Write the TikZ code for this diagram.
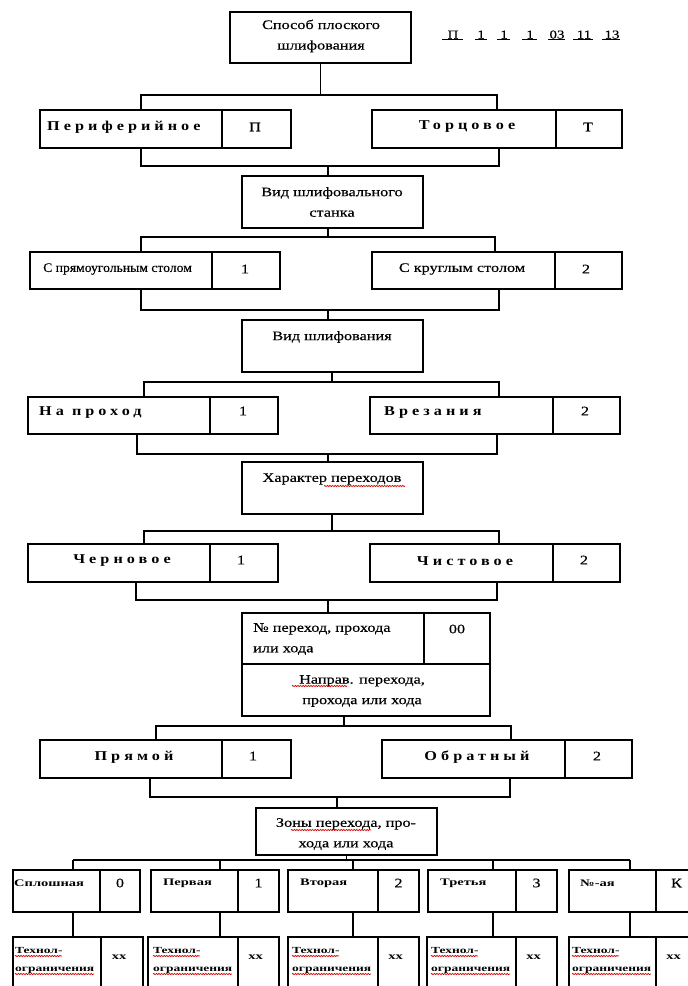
\documentclass[tikz,border=0pt]{standalone}
\usepackage{fontspec}
\usepackage{graphicx}
\setmainfont[FakeStretch=1.25,FakeBold=0.35]{Liberation Serif}
\newfontfamily\spacedfont[FakeStretch=1.2,LetterSpace=30]{Liberation Serif}
\newfontfamily\narrowfont[FakeStretch=1.45]{Liberation Serif}
\usetikzlibrary{decorations.pathmorphing}

% two-cell box: name cell + code cell
% #1 prefix, #2 left, #3 split, #4 right, #5 top, #6 bottom, #7 divider style
\newcommand{\pairbox}[7]{%
  \node[box, minimum width={(#3-#2)*1pt}, minimum height={(#6-#5)*1pt}] (#1n) at (#2,#5) {};
  \node[box, minimum width={(#4-#3)*1pt}, minimum height={(#6-#5)*1pt}] (#1c) at (#3,#5) {};
  \draw[#7] (#1n.north east) -- (#1n.south east);
}
\newcommand{\singlebox}[5]{%
  \node[box, minimum width={(#4-#2)*1pt}, minimum height={(#5-#3)*1pt}] (#1) at (#2,#3) {};
}

\begin{document}
\begin{tikzpicture}[x=1pt,y=-1pt,
  box/.style={draw, line width=1.1pt, inner sep=0pt, outer sep=0pt, anchor=north west},
  conn/.style={line width=1.1pt},
  thickdiv/.style={line width=2.4pt},
  thindiv/.style={line width=1.1pt},
  lbl/.style={inner sep=0pt, font=\fontsize{13}{20.5}\selectfont, align=center},
  lbll/.style={lbl, align=left, anchor=west},
  spaced/.style={inner sep=0pt, font=\spacedfont\bfseries\fontsize{13.5}{15}\selectfont},
  small/.style={inner sep=0pt, anchor=west, align=left, font=\narrowfont\bfseries\fontsize{10}{18}\selectfont},
  tech/.style={small, font=\narrowfont\bfseries\fontsize{9.3}{18}\selectfont},
  ul/.style={line width=0.9pt},
  wave/.style={red!85!black, line width=0.7pt, decorate,
    decoration={snake, amplitude=0.6pt, segment length=2.6pt}}]

\clip (0,0) rectangle (688,986);
\fill[white] (0,0) rectangle (688,986);

% ---------- method of grinding ----------
\singlebox{s1}{230}{12}{411}{63}
\node[lbl] (s1t) at (321,36) {Способ плоского\\шлифования};

% code string
\foreach \t/\cx/\ua/\ub [count=\i] in {П/453/442/463, 1/481/475/487, 1/504/497/510, 1/530/522/537,
    03/557/548/565, 11/584/573/593, 13/612/602/620}{
  \node[inner sep=0pt, anchor=base, font=\fontsize{12}{14}\selectfont] (code\i) at (\cx,38.5) {\t};
  \draw[ul] (\ua,39.5) -- (\ub,39.5);
}

\coordinate (j1) at (141,95); \coordinate (k1) at (497,95);
\pairbox{a1}{40}{222}{291}{110}{148}{thickdiv}
\pairbox{b1}{372}{556}{622}{110}{148}{thickdiv}
\draw[conn] (s1.south) -- (s1.south |- j1);
\draw[conn] (a1n.north -| j1) -- (j1) -- (k1) -- (b1n.north -| k1);
\node[spaced, anchor=west] (a1t) at (47,127) {Периферийное};
\node[lbl] (a1ct) at (255,127) {П};
\node[spaced] (b1t) at (467,127) {Торцовое};
\node[lbl] (b1ct) at (588,127) {Т};

% ---------- machine type ----------
\singlebox{s2}{242}{176}{423}{228}
\node[lbl] (s2t) at (332,202) {Вид шлифовального\\станка};
\coordinate (j2) at (141,166); \coordinate (k2) at (499,166); \coordinate (m2) at (328,166);
\draw[conn] (a1n.south -| j2) -- (j2) -- (k2) -- (b1n.south -| k2);
\draw[conn] (m2) -- (s2.north -| m2);

\coordinate (j3) at (141,237); \coordinate (k3) at (495,237); \coordinate (m3) at (328,237);
\pairbox{a2}{30}{212}{280}{252}{289}{thickdiv}
\pairbox{b2}{372}{555}{622}{252}{289}{thickdiv}
\draw[conn] (s2.south -| m3) -- (m3);
\draw[conn] (a2n.north -| j3) -- (j3) -- (k3) -- (b2n.north -| k3);
\node[lbl, anchor=west] (a2t) at (43,269) {\scalebox{0.84}[1]{С прямоугольным столом}};
\node[lbl] (a2ct) at (245,269) {1};
\node[lbl] (b2t) at (462,269) {С круглым столом};
\node[lbl] (b2ct) at (586,269) {2};

% ---------- grinding type ----------
\singlebox{s3}{242}{320}{423}{372}
\node[lbl] (s3t) at (332,337) {Вид шлифования};
\coordinate (j4) at (141,310); \coordinate (k4) at (499,310); \coordinate (m4) at (328,310);
\draw[conn] (a2n.south -| j4) -- (j4) -- (k4) -- (b2n.south -| k4);
\draw[conn] (m4) -- (s3.north -| m4);

\coordinate (j5) at (144,382); \coordinate (k5) at (499,382); \coordinate (m5) at (332,382);
\pairbox{a3}{28}{210}{278}{397}{434}{thickdiv}
\pairbox{b3}{370}{553}{620}{397}{434}{thickdiv}
\draw[conn] (s3.south -| m5) -- (m5);
\draw[conn] (a3n.north -| j5) -- (j5) -- (k5) -- (b3n.north -| k5);
\node[spaced, anchor=west] (a3t) at (39,413) {На проход};
\node[lbl] (a3ct) at (243,411) {1};
\node[spaced, anchor=west] (b3t) at (384,413) {Врезания};
\node[lbl] (b3ct) at (585,411) {2};

% ---------- passes ----------
\singlebox{s4}{242}{462}{423}{514}
\node[lbl] (s4t) at (332,479) {Характер переходов};
\draw[wave] (324,486) -- (405,486);
\coordinate (j6) at (137,454); \coordinate (k6) at (497,454); \coordinate (m6) at (328,454);
\draw[conn] (a3n.south -| j6) -- (j6) -- (k6) -- (b3n.south -| k6);
\draw[conn] (m6) -- (s4.north -| m6);

\coordinate (j7) at (144,531); \coordinate (k7) at (499,531); \coordinate (m7) at (332,531);
\pairbox{a4}{28}{210}{278}{544}{582}{thickdiv}
\pairbox{b4}{370}{553}{620}{544}{582}{thickdiv}
\draw[conn] (s4.south -| m7) -- (m7);
\draw[conn] (a4n.north -| j7) -- (j7) -- (k7) -- (b4n.north -| k7);
\node[spaced] (a4t) at (122,561) {Черновое};
\node[lbl] (a4ct) at (241,560) {1};
\node[spaced] (b4t) at (465,561) {Чистовое};
\node[lbl] (b4ct) at (584,560) {2};

% ---------- pass number and direction ----------
\node[box, minimum width=182pt, minimum height=51pt] (s5a) at (242,613) {};
\node[box, minimum width=66pt, minimum height=51pt] (s5b) at (424,613) {};
\node[box, minimum width=248pt, minimum height=52pt] (s5c) at (242,664) {};
\node[lbll] (s5at) at (253,639) {№ переход, прохода\\или хода};
\node[lbl] (s5bt) at (457,629) {00};
\node[lbl] (s5ct) at (362,691) {Направ. перехода,\\прохода или хода};
\draw[wave] (292,686) -- (347,686);
\coordinate (j8) at (136,600); \coordinate (k8) at (497,600); \coordinate (m8) at (328,600);
\draw[conn] (a4n.south -| j8) -- (j8) -- (k8) -- (b4n.south -| k8);
\draw[conn] (m8) -- (s5a.north -| m8);

\coordinate (j9) at (156,726); \coordinate (k9) at (511,726); \coordinate (m9) at (344,726);
\pairbox{a5}{40}{222}{291}{740}{778}{thickdiv}
\pairbox{b5}{382}{565}{632}{740}{778}{thickdiv}
\draw[conn] (s5c.south -| m9) -- (m9);
\draw[conn] (a5n.north -| j9) -- (j9) -- (k9) -- (b5n.north -| k9);
\node[spaced] (a5t) at (134,757) {Прямой};
\node[lbl] (a5ct) at (253,756) {1};
\node[spaced] (b5t) at (477,757) {Обратный};
\node[lbl] (b5ct) at (597,756) {2};

% ---------- zones ----------
\singlebox{s6}{256}{808}{437}{855}
\node[lbl] (s6t) at (346,834) {Зоны перехода, про-\\хода или хода};
\draw[wave] (291,830) -- (371,830);
\coordinate (j10) at (150,797); \coordinate (k10) at (510,797); \coordinate (m10) at (337,797);
\draw[conn] (a5n.south -| j10) -- (j10) -- (k10) -- (b5n.south -| k10);
\draw[conn] (m10) -- (s6.north -| m10);

\coordinate (bus) at (346,860);
\draw[conn] (s6.south) -- (s6.south |- bus);
\draw[conn] (73,860) coordinate (q0) -- (630,860) coordinate (q4);

\foreach \nm/\xa/\xd/\xb/\tx/\lab/\code/\jx/\txb/\xxa/\xxd/\xxb [count=\i from 0] in {
   Сплошная/13/100/140/14/z0/0/73/15/13/101/143,
   Первая/151/238/279/163/z1/1/220/153/148/238/279,
   Вторая/288/378/419/300/z2/2/353/292/288/378/419,
   Третья/428/516/557/440/z3/3/493/431/427/516/557,
   №-ая/569/656/697/580/z4/К/630/572/569/656/697}{
  \pairbox{\lab}{\xa}{\xd}{\xb}{870}{912}{thindiv}
  \coordinate (jz\i) at (\jx,860);
  \draw[conn] (jz\i) -- (\lab n.north -| jz\i);
  \node[small] (\lab t) at (\tx,883) {\nm};
  \node[lbl] (\lab ct) at ({(\xd+\xb)/2},883) {\code};
  % technology entry below each zone
  \pairbox{t\i}{\xxa}{\xxd}{\xxb}{937}{1010}{thindiv}
  \draw[conn] (\lab n.south -| jz\i) -- (t\i n.north -| jz\i);
  \node[tech] (t\i t) at (\txb,960) {Технол-\\ограничения};
  \node[small, anchor=center] (t\i x) at ({(\xxd+\xxb)/2-3},957) {xx};
  \draw[wave] (\txb,956) -- ++(47,0);
  \draw[wave] (\txb,974) -- ++(79,0);
}
\end{tikzpicture}
\end{document}
